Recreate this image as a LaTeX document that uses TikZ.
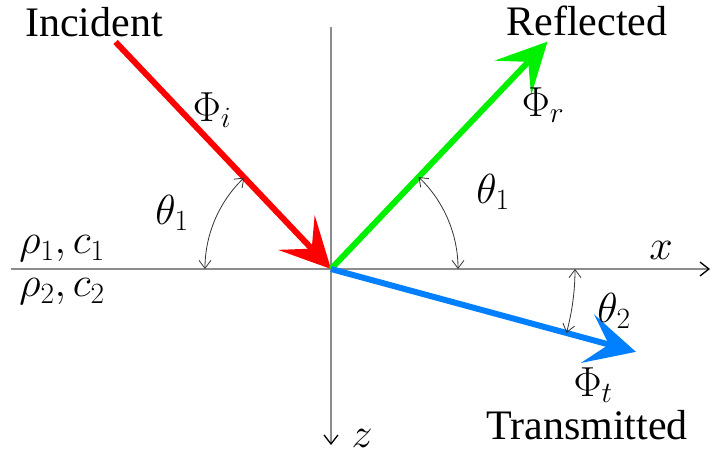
\RequirePackage{fix-cm}
\documentclass[tikz,border=0pt]{standalone}
\usepackage{fontspec}
\setmainfont{Liberation Serif}
\usepackage{tikz}
\usetikzlibrary{arrows.meta, calc}
\definecolor{rayred}{RGB}{255, 0, 0}
\definecolor{raygreen}{RGB}{0, 240, 0}
\definecolor{rayblue}{RGB}{0, 128, 255}
\definecolor{axisgray}{RGB}{140, 140, 140}

\begin{document}
\begin{tikzpicture}[
    x=1pt, y=1pt,
    every node/.style={font=\fontsize{42}{48}\selectfont, inner sep=0pt},
    axis/.style={draw=axisgray, line width=1.3pt, -{Straight Barb[length=9pt, width=14pt, line width=1.3pt, black]}},
    ray/.style={draw=#1, line width=6pt, -{Stealth[length=50pt, width=50pt, inset=22pt]}},
    angarrow/.style={draw=black!80, line width=0.8pt, {Straight Barb[length=8pt, width=12pt]}-{Straight Barb[length=8pt, width=12pt]}}
]
\useasboundingbox (-331,-186) rectangle (381,269);

% ==============================================================================
% AXES
% ==============================================================================
\coordinate (O) at (0,0);
\coordinate (xleft) at (-320,0);
\coordinate (xright) at (379,0);
\coordinate (ztop) at (0,242);
\coordinate (zbottom) at (0,-176);

\draw[axis] (xleft) -- (xright);
\draw[axis] (ztop) -- (zbottom);

\node (xlab) at (330,19) {$x$};
\node (zlab) at (31,-169) {$z$};

% ==============================================================================
% RAYS
% ==============================================================================
\coordinate (inc) at (133.5:313);
\coordinate (refl) at (46.4:314);
\coordinate (trans) at (-15.2:316);

\draw[ray=rayred] (inc) -- (O);
\draw[ray=raygreen] (O) -- (refl);
\draw[ray=rayblue] (O) -- (trans);

\node (incident) at (-237,247) {Incident};
\node (reflected) at (256,248) {Reflected};
\node (transmitted) at (256,-156) {Transmitted};

\node (phii) at (-119,159) {$\Phi_i$};
\node (phir) at (212,164) {$\Phi_r$};
\node (phit) at (262,-116) {$\Phi_t$};

% ==============================================================================
% ANGLES & MEDIA
% ==============================================================================
\draw[angarrow] (180:126) arc[start angle=180, end angle=133.5, radius=126];
\draw[angarrow] (0:127) arc[start angle=0, end angle=46.4, radius=127];
\draw[angarrow] (0:244) arc[start angle=0, end angle=-15.2, radius=244];

\node (thetaleft) at (-159,56) {$\theta_1$};
\node (thetaright) at (162,77) {$\theta_1$};
\node (thetatwo) at (283,-42) {$\theta_2$};

\node (upper) at (-269,20) {$\rho_1, c_1$};
\node (lower) at (-269,-23) {$\rho_2, c_2$};

\end{tikzpicture}
\end{document}
